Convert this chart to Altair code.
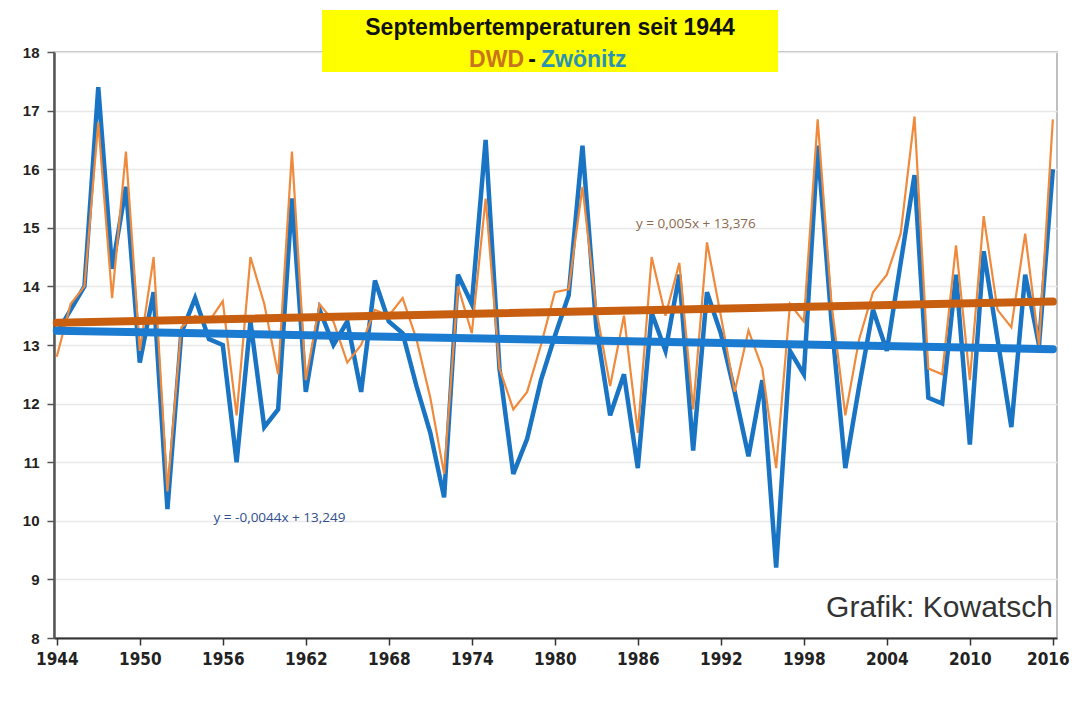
import altair as alt
import pandas as pd

years = list(range(1944, 2017))

dwd = [12.8, 13.7, 14.0, 16.8, 13.8, 16.3, 12.9, 14.5, 10.5, 13.3,
       13.5, 13.4, 13.75, 11.8, 14.5, 13.7, 12.5, 16.3, 12.4, 13.7,
       13.4, 12.7, 13.0, 13.6, 13.5, 13.8, 13.1, 12.1, 10.8, 14.0,
       13.2, 15.5, 12.6, 11.9, 12.2, 13.0, 13.9, 13.95, 15.7, 13.6,
       12.3, 13.5, 11.5, 14.5, 13.5, 14.4, 11.9, 14.75, 13.5, 12.2,
       13.25, 12.6, 10.9, 13.7, 13.4, 16.85, 13.7, 11.8, 13.1, 13.9,
       14.2, 14.9, 16.9, 12.6, 12.5, 14.7, 12.4, 15.2, 13.6, 13.3,
       14.9, 13.0, 16.85]

zwoenitz = [13.2, 13.6, 14.0, 17.4, 14.3, 15.7, 12.7, 13.9, 10.2, 13.2,
            13.8, 13.1, 13.0, 11.0, 13.4, 11.6, 11.9, 15.5, 12.2, 13.6,
            13.0, 13.4, 12.2, 14.1, 13.4, 13.2, 12.3, 11.5, 10.4, 14.2,
            13.7, 16.5, 12.6, 10.8, 11.4, 12.4, 13.15, 13.85, 16.4, 13.3,
            11.8, 12.5, 10.9, 13.55, 12.9, 14.2, 11.2, 13.9, 13.2, 12.2,
            11.1, 12.4, 9.2, 12.9, 12.5, 16.4, 13.4, 10.9, 12.3, 13.6,
            12.9, 14.4, 15.9, 12.1, 12.0, 14.2, 11.3, 14.6, 13.1, 11.6,
            14.2, 13.0, 16.0]

trend_years = [1944, 2016]
dwd_trend = [13.381, 13.741]
zw_trend = [13.245, 12.928]

x_ticks = [1944, 1950, 1956, 1962, 1968, 1974, 1980, 1986, 1992, 1998, 2004, 2010, 2016]
y_ticks = list(range(8, 19))

eq_text = ["y = 0,005x + 13,376", "y = -0,0044x + 13,249"]
eq_year = [1990.2, 1960.1]
eq_temp = [15.06, 10.05]
eq_color = ["#8a6a50", "#2f4f8f"]

title_1 = "Septembertemperaturen seit 1944"
credit = "Grafik: Kowatsch"

df = pd.DataFrame({"Jahr": years, "DWD": dwd, "Zwoenitz": zwoenitz})
tdf = pd.DataFrame({"Jahr": trend_years, "DWD": dwd_trend, "Zwoenitz": zw_trend})
edf = pd.DataFrame({"Jahr": eq_year, "T": eq_temp, "txt": eq_text, "c": eq_color})

xscale = alt.Scale(domain=[1943.8, 2016.3], nice=False, zero=False)
yscale = alt.Scale(domain=[8, 18], nice=False, zero=False)

xaxis = alt.Axis(values=x_ticks, format="d", title=None, grid=False,
                 labelFont="Liberation Sans Narrow, DejaVu Sans Condensed, Arial",
                 labelFontWeight="bold", labelFontSize=17, labelColor="#222",
                 labelOffset={"condition": {"test": "datum.value >= 2016", "value": -5}, "value": 0},
                 domainColor="#333", domainWidth=2, tickColor="#333",
                 tickWidth=1.5, tickSize=7, labelPadding=6)
yaxis = alt.Axis(values=y_ticks, format="d", title=None, grid=True,
                 gridColor="#e8e8e8", gridWidth=1.5,
                 labelFont="Liberation Sans", labelFontWeight="bold",
                 labelFontSize=15, labelColor="#222",
                 domainColor="#555", domainWidth=2.5, tickColor="#555",
                 tickWidth=1.5, tickSize=7, labelPadding=8)

base = alt.Chart(df)

blue = base.mark_line(color="#1a74c4", strokeWidth=4.5, strokeJoin="miter").encode(
    x=alt.X("Jahr:Q", scale=xscale, axis=xaxis),
    y=alt.Y("Zwoenitz:Q", scale=yscale, axis=yaxis),
)
orange = base.mark_line(color="#ef8a3c", strokeWidth=2.2).encode(
    x=alt.X("Jahr:Q", scale=xscale),
    y=alt.Y("DWD:Q", scale=yscale),
)

tbase = alt.Chart(tdf)
t_orange = tbase.mark_line(color="#c85f10", strokeWidth=8, strokeCap="round").encode(
    x=alt.X("Jahr:Q", scale=xscale), y=alt.Y("DWD:Q", scale=yscale))
t_blue = tbase.mark_line(color="#1a7bd0", strokeWidth=8, strokeCap="round").encode(
    x=alt.X("Jahr:Q", scale=xscale), y=alt.Y("Zwoenitz:Q", scale=yscale))

eqs = alt.Chart(edf).mark_text(font="Open Sans", fontSize=13.5, align="center").encode(
    x=alt.X("Jahr:Q", scale=xscale), y=alt.Y("T:Q", scale=yscale),
    text="txt:N", color=alt.Color("c:N", scale=None))

cred = alt.Chart(pd.DataFrame({"t": [credit], "x": [2016.0], "y": [8.52]})).mark_text(
    font="Liberation Sans", fontSize=30, align="right", baseline="middle", color="#333"
).encode(x=alt.X("x:Q", scale=xscale), y=alt.Y("y:Q", scale=yscale), text="t:N")

box = alt.Chart(pd.DataFrame({"a": [0]})).mark_rect(color="#ffff00").encode(
    x=alt.value(268), x2=alt.value(724), y=alt.value(-42), y2=alt.value(20))

t1 = alt.Chart(pd.DataFrame({"t": [title_1]})).mark_text(
    font="Liberation Sans", fontSize=23, fontWeight="bold", color="#111",
    align="center", baseline="middle").encode(
    x=alt.value(496), y=alt.value(-24), text="t:N")
t_dwd = alt.Chart(pd.DataFrame({"t": ["DWD"]})).mark_text(
    font="Liberation Sans", fontSize=23, fontWeight="bold", color="#c8731e",
    align="right", baseline="middle").encode(
    x=alt.value(470), y=alt.value(8), text="t:N")
t_dash = alt.Chart(pd.DataFrame({"t": ["-"]})).mark_text(
    font="Liberation Sans", fontSize=23, fontWeight="bold", color="#111",
    align="center", baseline="middle").encode(
    x=alt.value(478), y=alt.value(8), text="t:N")
t_zw = alt.Chart(pd.DataFrame({"t": ["Zwönitz"]})).mark_text(
    font="Liberation Sans", fontSize=23, fontWeight="bold", color="#2a93b4",
    align="left", baseline="middle").encode(
    x=alt.value(487), y=alt.value(8), text="t:N")

chart = alt.layer(blue, orange, t_orange, t_blue, eqs, cred, box, t1, t_dwd, t_dash, t_zw).properties(
    width=1003, height=586,
    padding={"left": 46, "top": 44, "right": 12, "bottom": 50},
    autosize=alt.AutoSizeParams(type="none"),
    background="white",
).configure_view(stroke="#aaaaaa", strokeWidth=1.5)

chart.save("out.html", embed_options={"renderer": "svg", "actions": False})
